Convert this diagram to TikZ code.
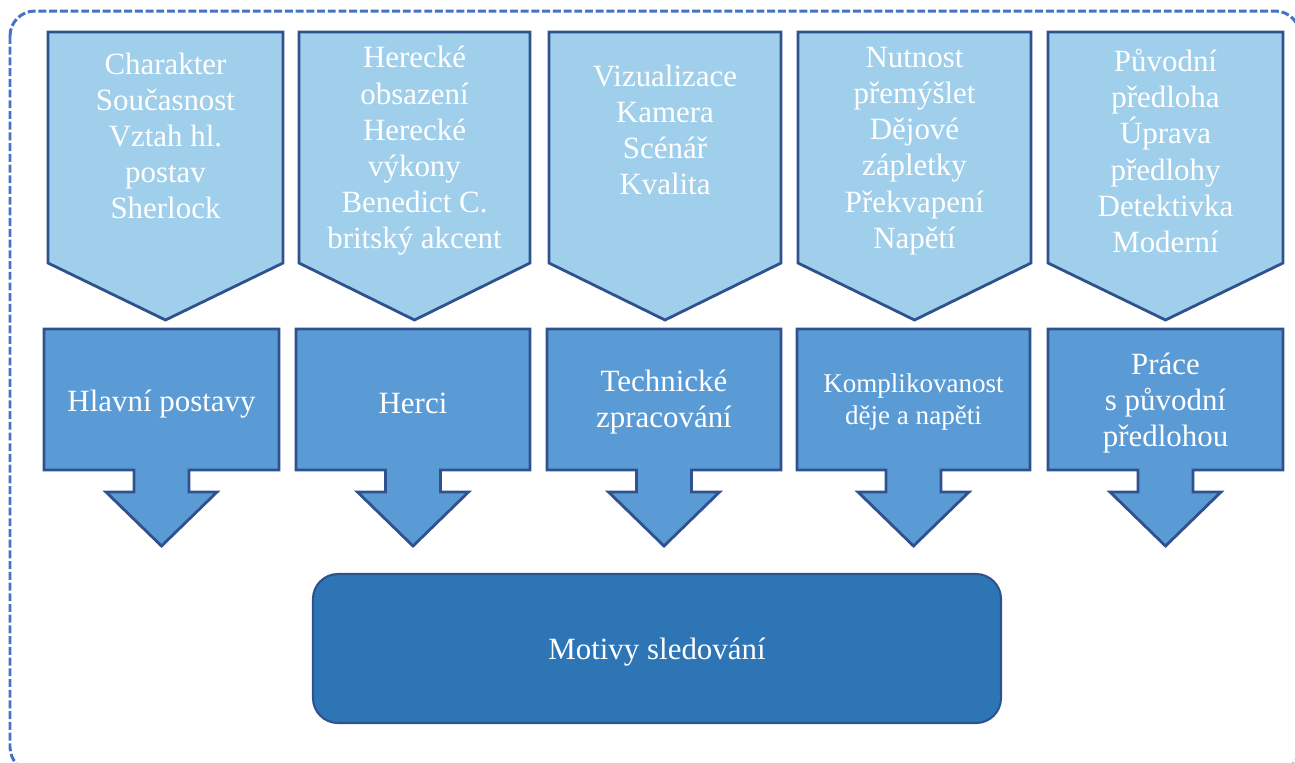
\documentclass[tikz,border=0pt]{standalone}
\usepackage{fontspec}
\setmainfont{Liberation Serif}
\usepackage{tikz}

\definecolor{framecol}{HTML}{4472C4}
\definecolor{edgecol}{HTML}{2F528F}
\definecolor{palefill}{HTML}{A0CFEB}
\definecolor{midfill}{HTML}{5B9BD5}
\definecolor{darkfill}{HTML}{2E75B6}

\begin{document}
\begin{tikzpicture}[x=0.02cm,y=-0.02cm,
    pent/.style={draw=edgecol,line width=1.6pt,fill=palefill,line join=miter},
    callout/.style={draw=edgecol,line width=1.6pt,fill=midfill,line join=miter},
    txt/.style={text=white,align=center,font=\fontsize{17.6}{20.6}\selectfont},
    smalltxt/.style={text=white,align=center,font=\fontsize{15.4}{18.4}\selectfont}]
    \useasboundingbox (0,0) rectangle (1295,762);
    \clip (0,0) rectangle (1295,762);
    % outer frame
    \draw[framecol,line width=1.7pt,dash pattern=on 4.5pt off 1.6pt,rounded corners=0.5cm]
      (10,11) rectangle (1300,772);
    % upper row
    \draw[pent] (48,32) -- (283,32) -- (283,263) -- (165.5,320) -- (48,263) -- cycle;
    \draw[pent] (299,32) -- (530,32) -- (530,263) -- (414.5,320) -- (299,263) -- cycle;
    \draw[pent] (549,32) -- (781,32) -- (781,263) -- (665,320) -- (549,263) -- cycle;
    \draw[pent] (798,32) -- (1031,32) -- (1031,263) -- (914.5,320) -- (798,263) -- cycle;
    \draw[pent] (1048,32) -- (1283,32) -- (1283,263) -- (1165.5,320) -- (1048,263) -- cycle;
    \node[txt] (hl-top) at (165.5,136) {Charakter\\Současnost\\Vztah hl.\\postav\\Sherlock};
    \node[txt] (her-top) at (414.5,151) {Herecké\\obsazení\\Herecké\\výkony\\Benedict C.\\britský akcent};
    \node[txt] (tech-top) at (665,130) {Vizualizace\\Kamera\\Scénář\\Kvalita};
    \node[txt] (kompl-top) at (914.5,151) {Nutnost\\přemýšlet\\Dějové\\zápletky\\Překvapení\\Napětí};
    \node[txt] (prace-top) at (1165.5,151) {Původní\\předloha\\Úprava\\předlohy\\Detektivka\\Moderní};
    % middle row
    \draw[callout] (44,329) -- (279,329) -- (279,470) -- (189,470) -- (189,492) -- (217,492)
      -- (161.5,546) -- (106,492) -- (134,492) -- (134,470) -- (44,470) -- cycle;
    \draw[callout] (296,329) -- (530,329) -- (530,470) -- (440.5,470) -- (440.5,492) -- (468.5,492)
      -- (413,546) -- (357.5,492) -- (385.5,492) -- (385.5,470) -- (296,470) -- cycle;
    \draw[callout] (547,329) -- (781,329) -- (781,470) -- (691.5,470) -- (691.5,492) -- (719.5,492)
      -- (664,546) -- (608.5,492) -- (636.5,492) -- (636.5,470) -- (547,470) -- cycle;
    \draw[callout] (797,329) -- (1030,329) -- (1030,470) -- (941,470) -- (941,492) -- (969,492)
      -- (913.5,546) -- (858,492) -- (886,492) -- (886,470) -- (797,470) -- cycle;
    \draw[callout] (1048,329) -- (1283,329) -- (1283,470) -- (1193,470) -- (1193,492) -- (1221,492)
      -- (1165.5,546) -- (1110,492) -- (1138,492) -- (1138,470) -- (1048,470) -- cycle;
    \node[txt] (hl) at (161.5,404) {Hlavní postavy};
    \node[txt] (her) at (413,403) {Herci};
    \node[txt] (tech) at (664,402) {Technické\\zpracování};
    \node[smalltxt] (kompl) at (913.5,402) {Komplikovanost\\děje a napěti};
    \node[txt] (prace) at (1165.5,403) {Práce\\s původní\\předlohou};
    % bottom
    \draw[draw=edgecol,line width=1.2pt,fill=darkfill,rounded corners=0.5cm]
      (313,574) rectangle (1001,723);
    \node[txt] (motivy) at (657,652) {Motivy sledování};
  \end{tikzpicture}
\end{document}
